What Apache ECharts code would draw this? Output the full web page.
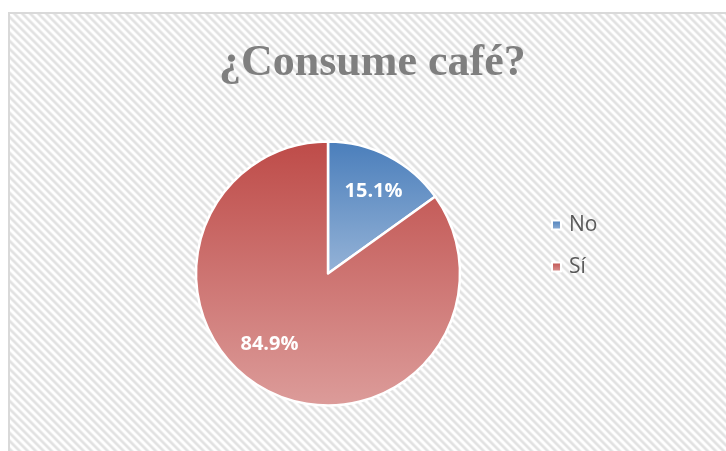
<!DOCTYPE html>
<html>
<head>
<meta charset="utf-8">
<script src="https://cdn.jsdelivr.net/npm/echarts@6/dist/echarts.min.js"></script>
<style>
html,body{margin:0;padding:0;background:#fff;}
#chart{width:726px;height:451px;}
</style>
</head>
<body>
<div id="chart"></div>
<script>
const titleText = '¿Consume café?';
const categories = ['No', 'Sí'];
const values = [15.1, 84.9];

// styling (not data)
const topColors = ['#4a7ebb', '#be4b48'];
const bottomColors = ['#95b3d7', '#dc9c9a'];
const labelShift = [[14, -21], [-27, 9]];

// hatch pattern tile
const tile = document.createElement('canvas');
tile.width = 8; tile.height = 8;
const tctx = tile.getContext('2d');
const shades = ['#e2e2e2', '#e2e2e2', '#e9e9e9', '#f6f6f6', '#ffffff', '#ffffff', '#fbfbfb', '#ececec'];
for (let y = 0; y < 8; y++) {
  for (let x = 0; x < 8; x++) {
    tctx.fillStyle = shades[((x - y) % 8 + 8) % 8];
    tctx.fillRect(x, y, 1, 1);
  }
}

const chart = echarts.init(document.getElementById('chart'), null, {renderer: 'canvas'});

const option = {
  backgroundColor: '#ffffff',
  animation: false,
  graphic: [{
    type: 'rect',
    z: -10,
    shape: {x: 9, y: 13, width: 730, height: 450},
    style: {fill: {image: tile, repeat: 'repeat'}, stroke: '#d9d9d9', lineWidth: 2}
  }],
  title: {
    text: titleText,
    left: 214,
    top: 36,
    textStyle: {
      fontFamily: 'Liberation Serif',
      fontWeight: 'bold',
      fontSize: 44,
      lineHeight: 45,
      color: '#7f7f7f'
    }
  },
  legend: {
    orient: 'vertical',
    left: 546,
    top: 209,
    itemWidth: 9,
    itemHeight: 9,
    itemGap: 20,
    icon: 'rect',
    data: categories,
    textStyle: {
      fontFamily: 'Open Sans',
      fontSize: 21,
      lineHeight: 22,
      color: '#595959',
      padding: [0, 0, 0, 3]
    }
  },
  series: [{
    type: 'pie',
    center: [328, 273.5],
    radius: 132,
    startAngle: 90,
    clockwise: true,
    avoidLabelOverlap: false,
    emphasis: {disabled: true},
    itemStyle: {borderColor: '#ffffff', borderWidth: 2.5},
    label: {
      show: true,
      position: 'inside',
      formatter: p => p.value.toFixed(1) + '%',
      fontFamily: 'Open Sans',
      fontWeight: 'bold',
      fontSize: 20,
      color: '#ffffff'
    },
    labelLine: {show: false},
    labelLayout: p => ({dx: labelShift[p.dataIndex][0], dy: labelShift[p.dataIndex][1]}),
    data: categories.map((name, i) => ({
      name: name,
      value: values[i],
      itemStyle: {
        color: new echarts.graphic.LinearGradient(0, 0, 0, 1, [
          {offset: 0, color: topColors[i]},
          {offset: 1, color: bottomColors[i]}
        ])
      }
    }))
  }]
};
chart.setOption(option);
</script>
</body>
</html>
